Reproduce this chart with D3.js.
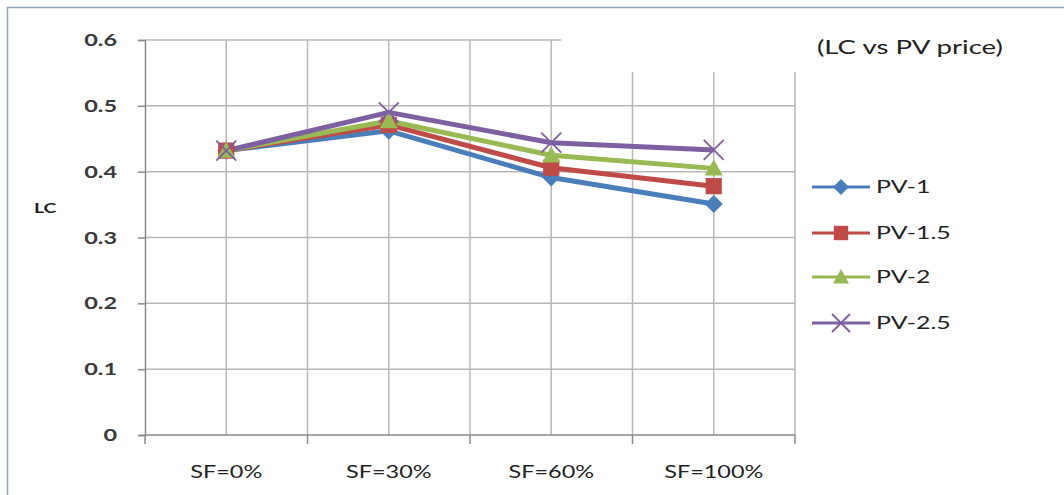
<!DOCTYPE html>
<html>
<head>
<meta charset="utf-8">
<script src="https://cdn.jsdelivr.net/npm/d3@7"></script>
<style>
body{margin:0;background:#fff;}
svg{display:block;}
</style>
</head>
<body>
<svg id="chart" width="1064" height="495"></svg>
<script>
const categories = ["SF=0%", "SF=30%", "SF=60%", "SF=100%"];
const yTicks = [0, 0.1, 0.2, 0.3, 0.4, 0.5, 0.6];
const seriesNames = ["PV-1", "PV-1.5", "PV-2", "PV-2.5"];
const pv1 = [0.432, 0.462, 0.391, 0.351];
const pv15 = [0.432, 0.471, 0.406, 0.378];
const pv2 = [0.432, 0.477, 0.425, 0.405];
const pv25 = [0.432, 0.490, 0.444, 0.433];
const seriesValues = [pv1, pv15, pv2, pv25];
const colors = ["#4a7ebb", "#be4b48", "#98b954", "#7d60a0"];
const markers = ["diamond", "square", "triangle", "x"];

(function () {
const svg = d3.select("#chart");
const font = "Lato, 'Open Sans', sans-serif";
const SX = 1.38; // horizontal stretch seen in the reference text

function stretchedText(parent, tx, ty, str, anchor) {
  return parent.append("text")
    .attr("transform", `translate(${tx},${ty}) scale(${SX},1)`)
    .attr("text-anchor", anchor || "start")
    .attr("font-family", font)
    .text(str);
}

// outer frame
svg.append("path").attr("d", "M7.5,495 L7.5,7.5 L1064,7.5")
  .attr("fill", "none").attr("stroke", "#8fa3ba").attr("stroke-width", 1.5);

const mLeft = 145, mRight = 795, mTop = 40, mBottom = 435;
const x = d3.scaleBand().domain(categories).range([mLeft, mRight]);
const y = d3.scaleLinear().domain([0, 0.6]).range([mBottom, mTop]);

const g = svg.append("g");
// horizontal gridlines
yTicks.forEach(t => {
  if (t === 0) return;
  const x2 = t === 0.6 ? 561 : mRight;
  g.append("line").attr("x1", mLeft).attr("x2", x2).attr("y1", y(t)).attr("y2", y(t))
    .attr("stroke", "#b8b8b8").attr("stroke-width", 1.5);
});
// vertical gridlines: band boundaries and centers
const vx = [];
categories.forEach((c, i) => {
  vx.push(x(c) + x.bandwidth() / 2);
  if (i > 0) vx.push(x(c));
});
vx.push(mRight);
vx.forEach(v => {
  const y1 = v > 565 ? 72 : mTop;
  g.append("line").attr("x1", v).attr("x2", v).attr("y1", y1).attr("y2", mBottom)
    .attr("stroke", "#b8b8b8").attr("stroke-width", 1.5);
});

// y axis
const yAxis = d3.axisLeft(y).tickValues(yTicks).tickSize(7).tickFormat(() => "");
const ya = svg.append("g").attr("transform", `translate(${mLeft},0)`).call(yAxis);
ya.select(".domain").attr("stroke", "#8a8a8a").attr("stroke-width", 1.5);
ya.selectAll(".tick line").attr("stroke", "#8a8a8a").attr("stroke-width", 1.5);
yTicks.forEach(t => {
  stretchedText(svg, 117, y(t) + 6, t === 0 ? "0" : d3.format(".1f")(t), "end")
    .attr("font-size", 17).attr("font-weight", "bold").attr("fill", "#3a3a3a");
});

// x axis
const xa = svg.append("g").attr("transform", `translate(0,${mBottom})`);
xa.append("line").attr("x1", mLeft).attr("x2", mRight).attr("stroke", "#8a8a8a").attr("stroke-width", 1.5);
const bounds = categories.map(c => x(c)).concat([mRight]);
bounds.forEach(b => xa.append("line").attr("x1", b).attr("x2", b).attr("y1", 0).attr("y2", 9)
  .attr("stroke", "#8a8a8a").attr("stroke-width", 1.5));
categories.forEach(c => {
  stretchedText(xa, x(c) + x.bandwidth() / 2, 43, c, "middle")
    .attr("font-size", 17).attr("fill", "#222");
});

// LC label
stretchedText(svg, 34, 213, "LC").attr("font-size", 14).attr("font-weight", "bold").attr("fill", "#222");

// title
stretchedText(svg, 817, 54, "(LC vs PV price)").attr("font-size", 20).attr("fill", "#222");

function drawMarker(sel, type, cx, cy, color, s) {
  if (type === "diamond") {
    sel.append("path").attr("d", `M${cx},${cy - s} L${cx + s},${cy} L${cx},${cy + s} L${cx - s},${cy} Z`).attr("fill", color);
  } else if (type === "square") {
    sel.append("rect").attr("x", cx - s * 0.9).attr("y", cy - s * 0.9).attr("width", s * 1.8).attr("height", s * 1.8).attr("fill", color);
  } else if (type === "triangle") {
    sel.append("path").attr("d", `M${cx},${cy - s} L${cx + s},${cy + s * 0.8} L${cx - s},${cy + s * 0.8} Z`).attr("fill", color);
  } else {
    sel.append("path").attr("d", `M${cx - s},${cy - s} L${cx + s},${cy + s} M${cx + s},${cy - s} L${cx - s},${cy + s}`)
      .attr("stroke", color).attr("stroke-width", 1.8).attr("fill", "none");
  }
}

const line = d3.line().x((d, i) => x(categories[i]) + x.bandwidth() / 2).y(d => y(d));
const plot = svg.append("g");
seriesValues.forEach((vals, si) => {
  plot.append("path").datum(vals).attr("d", line).attr("fill", "none")
    .attr("stroke", colors[si]).attr("stroke-width", 5).attr("stroke-linejoin", "round");
});
seriesValues.forEach((vals, si) => {
  vals.forEach((v, i) => {
    drawMarker(plot, markers[si], x(categories[i]) + x.bandwidth() / 2, y(v), colors[si], si === 3 ? 10 : 9);
  });
});

// legend
const legY = [187, 233, 277, 323];
seriesNames.forEach((n, i) => {
  const lg = svg.append("g");
  lg.append("line").attr("x1", 812).attr("x2", 870).attr("y1", legY[i]).attr("y2", legY[i])
    .attr("stroke", colors[i]).attr("stroke-width", 3);
  drawMarker(lg, markers[i], 841, legY[i], colors[i], i === 3 ? 9 : 8);
  stretchedText(lg, 876, legY[i] + 6, n).attr("font-size", 18).attr("fill", "#222");
});
})();
</script>
</body>
</html>
